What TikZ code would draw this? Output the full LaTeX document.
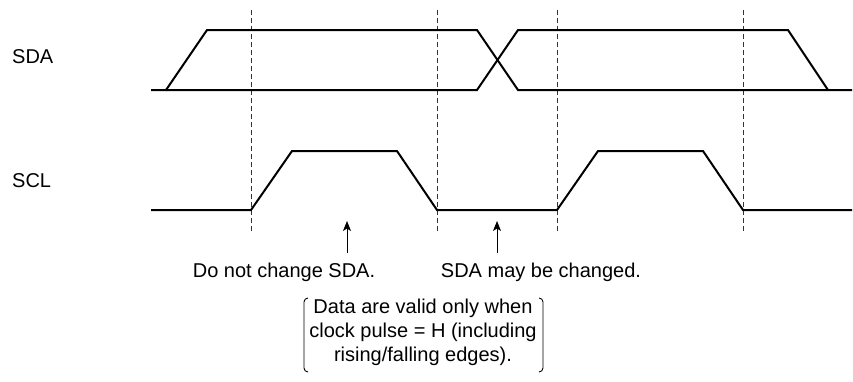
\documentclass[tikz,border=0pt]{standalone}
\usepackage{fontspec}
\setmainfont{Liberation Sans}
\usetikzlibrary{arrows.meta}
\begin{document}
\begin{tikzpicture}[x=1pt,y=-1pt,
  sig/.style={line width=2pt,line join=miter},
  guide/.style={line width=0.9pt,dash pattern=on 5pt off 3pt,black!80},
  lbl/.style={inner sep=0pt,font=\fontsize{20}{24}\selectfont},
  pointer/.style={line width=1pt,-{Stealth[length=10pt,width=8pt,inset=2.5pt]}},
  brk/.style={line width=0.9pt,rounded corners=4pt}]
\useasboundingbox (0,0) rectangle (853,381);
% labels
\node[lbl,anchor=west] (sda) at (12,57) {SDA};
\node[lbl,anchor=west] (scl) at (12,181) {SCL};
% guides
\foreach \x/\n in {251/a,437/b,557/c,743/d}{
  \coordinate (g\n t) at (\x,10);
  \coordinate (g\n b) at (\x,232);
  \draw[guide] (g\n t) -- (g\n b);
}
% SDA
\draw[sig] (151,90) -- (166,90) -- (207,30) -- (477,30) -- (518,90) -- (852,90);
\draw[sig] (166,90) -- (477,90) -- (518,30) -- (788,30) -- (828,90);
% SCL
\draw[sig] (151,210) -- (251,210) -- (292,151) -- (397,151) -- (437,210) -- (557,210) -- (598,151) -- (703,151) -- (743,210) -- (852,210);
% annotations
\node[lbl] (t1) at (284,272) {Do not change SDA.};
\node[lbl] (t2) at (541,272) {SDA may be changed.};
\coordinate (p1) at (347,253);
\coordinate (q1) at (347,221);
\coordinate (p2) at (497,253);
\coordinate (q2) at (497,221);
\draw[pointer] (p1) -- (q1);
\draw[pointer] (p2) -- (q2);
\node[lbl,align=center] (note) at (423,332) {Data are valid only when\\clock pulse = H (including\\rising/falling edges).};
\draw[brk] (308,298) -- (304,298) -- (304,372) -- (308,372);
\draw[brk] (539,298) -- (543,298) -- (543,372) -- (539,372);
\end{tikzpicture}
\end{document}
